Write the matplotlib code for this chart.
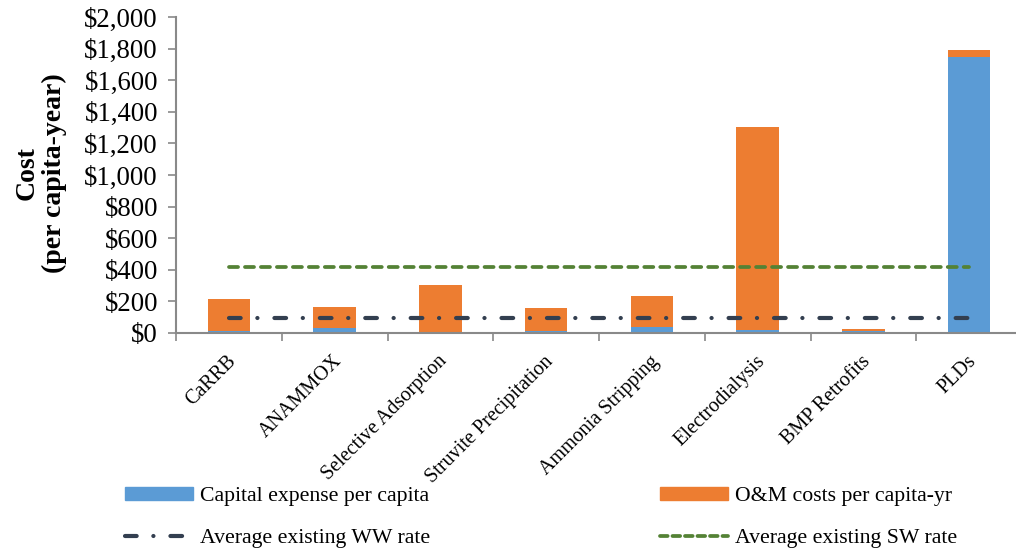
import numpy as np
import matplotlib.pyplot as plt
import matplotlib.transforms as mtransforms
from matplotlib.lines import Line2D
from matplotlib.patches import Patch
from matplotlib.ticker import FuncFormatter

plt.rcParams['font.family'] = ['Liberation Serif', 'DejaVu Serif']
plt.rcParams['lines.scale_dashes'] = False

# data
technologies = ['CaRRB', 'ANAMMOX', 'Selective Adsorption', 'Struvite Precipitation',
                'Ammonia Stripping', 'Electrodialysis', 'BMP Retrofits', 'PLDs']
capital = [13, 30, 0, 12, 36, 17, 15, 1745]
om_cost = [202, 135, 302, 144, 198, 1287, 10, 45]
ww_rate = 95
sw_rate = 420

blue = '#5B9BD5'
orange = '#ED7D31'
navy = '#333F50'
green = '#548235'
axis_gray = '#898989'

ww_dash = (8.4, 12, 0.1, 12.2)
sw_dash = (6.5, 5.0)

fig = plt.figure(figsize=(10.16, 5.5), dpi=100)
ax = fig.add_axes([176 / 1016, 217 / 550, 846 / 1016, 316 / 550])

x = np.arange(len(technologies))
ax.bar(x, capital, width=0.4, color=blue, zorder=2)
ax.bar(x, om_cost, width=0.4, bottom=capital, color=orange, zorder=2)

# average existing rates
ax.plot(x, [ww_rate] * len(x), color=navy, lw=3.0, dash_capstyle='round',
        dashes=ww_dash, zorder=3)
ax.plot(x, [sw_rate] * len(x), color=green, lw=2.7, dash_capstyle='round',
        dashes=sw_dash, zorder=3)

ax.set_xlim(-0.5, len(x) - 0.5)
ax.set_ylim(0, 2000)
ax.set_yticks(np.arange(0, 2001, 200))
ax.yaxis.set_major_formatter(FuncFormatter(lambda v, p: '${:,.0f}'.format(v)))
ax.tick_params(axis='y', labelsize=19.3, length=6, width=1.2, color=axis_gray, pad=7)

ax.set_xticks(x)
ax.set_xticklabels(technologies, rotation=45, ha='right', fontsize=14.5)
ax.tick_params(axis='x', which='major', length=0, pad=5)
ax.set_xticks(np.arange(-0.5, len(x)), minor=True)
ax.tick_params(axis='x', which='minor', length=6, width=1.2, color=axis_gray)
# nudge the rotated labels a bit right/down like the original
shift = mtransforms.ScaledTranslation(0.11, -0.12, fig.dpi_scale_trans)
for lab in ax.get_xticklabels():
    lab.set_transform(lab.get_transform() + shift)

for s in ['top', 'right']:
    ax.spines[s].set_visible(False)
for s in ['left', 'bottom']:
    ax.spines[s].set_color(axis_gray)
    ax.spines[s].set_linewidth(1.5)

fig.text(0.04, 0.685, 'Cost\n(per capita-year)', rotation=90, fontsize=20,
         fontweight='bold', ha='center', va='center', multialignment='center',
         linespacing=1.1)

# legend in two columns
h_cap = Patch(color=blue)
h_om = Patch(color=orange)
h_ww = Line2D([], [], color=navy, lw=3.0, dash_capstyle='round', dashes=ww_dash)
h_sw = Line2D([], [], color=green, lw=2.7, dash_capstyle='round', dashes=(5.5, 3.5))

leg_kw = dict(frameon=False, fontsize=15.7, handlelength=3.1, handleheight=0.55,
              handletextpad=0.33, labelspacing=1.05, borderpad=0, borderaxespad=0,
              loc='upper left')
fig.legend([h_cap, h_ww], ['Capital expense per capita', 'Average existing WW rate'],
           bbox_to_anchor=(125 / 1016, 1 - 487 / 550), **leg_kw)
fig.legend([h_om, h_sw], ['O&M costs per capita-yr', 'Average existing SW rate'],
           bbox_to_anchor=(660 / 1016, 1 - 487 / 550), **leg_kw)

fig.savefig('out.png', dpi=100)
